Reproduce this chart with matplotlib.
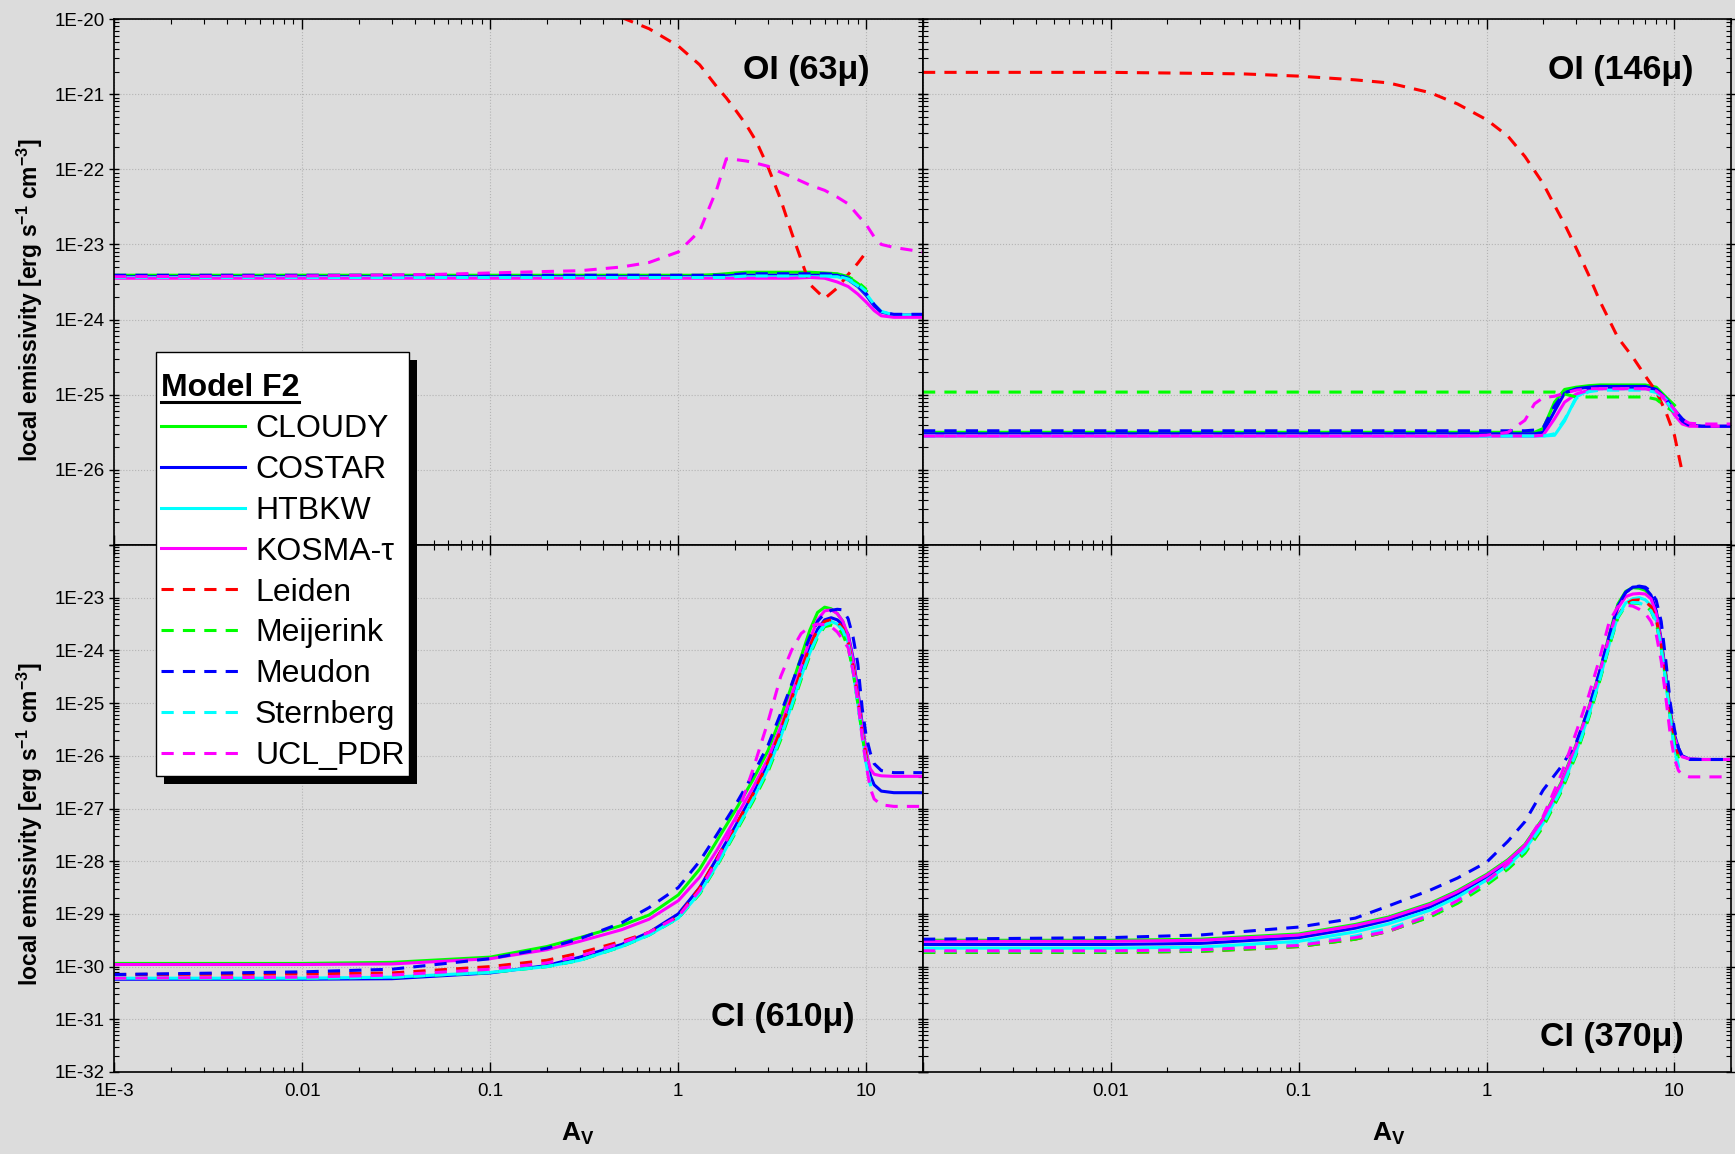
import numpy as np
import matplotlib
matplotlib.use("Agg")
import matplotlib.pyplot as plt
from matplotlib.lines import Line2D
from matplotlib.patches import Rectangle
from matplotlib.offsetbox import DrawingArea
from matplotlib.ticker import LogLocator, NullFormatter

plt.rcParams['font.family'] = ['Liberation Sans', 'DejaVu Sans']
plt.rcParams['mathtext.fontset'] = 'custom'
plt.rcParams['mathtext.rm'] = 'Liberation Sans'
plt.rcParams['mathtext.bf'] = 'Liberation Sans:bold'
plt.rcParams['mathtext.it'] = 'Liberation Sans:italic'

N = None

models = ['CLOUDY', 'COSTAR', 'HTBKW', 'KOSMA-τ', 'Leiden', 'Meijerink', 'Meudon', 'Sternberg', 'UCL_PDR']
colors = ['#00ff00', '#0000ff', '#00ffff', '#ff00ff', '#ff0000', '#00ff00', '#0000ff', '#00ffff', '#ff00ff']
dashed = [False, False, False, False, True, True, True, True, True]

# A_V sampling used when reading the top panels (OI lines)
av_top = [0.001, 0.01, 0.05, 0.1, 0.2, 0.3, 0.5, 0.7, 1.0, 1.3, 1.6, 1.8, 2.0, 2.3,
          2.6, 3.0, 3.5, 4.0, 5.0, 6.0, 7.0, 8.0, 9.0, 10.0, 11.0, 12.0, 14.0, 20.0]

# log10 of local emissivity, OI 63 micron
oi63_cloudy = [-23.41, -23.41, -23.41, -23.41, -23.41, -23.41, -23.41, -23.41, -23.41, -23.41, -23.40, -23.39, -23.38, -23.37,
               -23.37, -23.37, -23.37, -23.37, -23.37, -23.38, -23.39, -23.43, -23.52, -23.62, N, N, N, N]
oi63_costar = [-23.43, -23.43, -23.43, -23.43, -23.43, -23.43, -23.43, -23.43, -23.43, -23.43, -23.43, -23.42, -23.41, -23.41,
               -23.41, -23.41, -23.41, -23.41, -23.41, -23.41, -23.41, -23.47, -23.56, -23.68, -23.82, -23.90, -23.94, -23.94]
oi63_htbkw = [-23.44, -23.44, -23.44, -23.44, -23.44, -23.44, -23.44, -23.44, -23.44, -23.44, -23.44, -23.44, -23.43, -23.43,
              -23.43, -23.43, -23.43, -23.43, -23.43, -23.43, -23.43, -23.47, -23.55, -23.66, -23.80, -23.89, -23.94, -23.94]
oi63_kosma = [-23.45, -23.45, -23.45, -23.45, -23.45, -23.45, -23.45, -23.45, -23.45, -23.45, -23.45, -23.45, -23.45, -23.45,
              -23.45, -23.45, -23.45, -23.45, -23.44, -23.45, -23.50, -23.56, -23.66, -23.77, -23.88, -23.95, -23.97, -23.97]
oi63_leiden = [N, N, N, N, N, N, -19.98, -20.13, -20.36, -20.61, -20.90, -21.05, -21.20, -21.41,
               -21.63, -21.97, -22.40, -22.84, -23.53, -23.72, -23.58, -23.40, -23.25, -23.10, N, N, N, N]
oi63_meijerink = [-23.43, -23.43, -23.43, -23.43, -23.43, -23.43, -23.43, -23.43, -23.43, -23.43, -23.43, -23.43, -23.41, -23.40,
                  -23.40, -23.40, -23.40, -23.40, -23.40, -23.40, -23.40, -23.43, -23.50, -23.60, N, N, N, N]
oi63_meudon = [-23.41, -23.41, -23.41, -23.41, -23.41, -23.41, -23.41, -23.41, -23.41, -23.41, -23.41, -23.41, -23.40, -23.39,
               -23.39, -23.39, -23.39, -23.39, -23.39, -23.39, -23.40, -23.45, -23.55, -23.66, -23.80, -23.90, -23.93, -23.93]
oi63_sternberg = [-23.44, -23.44, -23.44, -23.44, -23.44, -23.44, -23.44, -23.44, -23.44, -23.44, -23.44, -23.44, -23.43, -23.42,
                  -23.42, -23.42, -23.42, -23.42, -23.42, -23.42, -23.42, -23.46, -23.53, -23.63, N, N, N, N]
oi63_ucl = [-23.43, -23.42, -23.40, -23.38, -23.36, -23.35, -23.30, -23.24, -23.10, -22.82, -22.27, -21.86, -21.87, -21.89,
            -21.92, -21.96, -22.04, -22.10, -22.21, -22.28, -22.37, -22.46, -22.61, -22.74, -22.90, -23.00, -23.04, -23.10]

# log10 of local emissivity, OI 146 micron
oi146_cloudy = [-25.50, -25.50, -25.50, -25.50, -25.50, -25.50, -25.50, -25.50, -25.50, -25.50, -25.50, -25.50, -25.45, -25.10,
                -24.93, -24.90, -24.88, -24.87, -24.87, -24.87, -24.87, -24.90, -25.03, -25.14, N, N, N, N]
oi146_costar = [-25.52, -25.52, -25.52, -25.52, -25.52, -25.52, -25.52, -25.52, -25.52, -25.52, -25.52, -25.52, -25.50, -25.22,
                -24.98, -24.92, -24.90, -24.89, -24.89, -24.89, -24.89, -24.93, -25.05, -25.20, -25.32, -25.40, -25.42, -25.42]
oi146_htbkw = [-25.55, -25.55, -25.55, -25.55, -25.55, -25.55, -25.55, -25.55, -25.55, -25.55, -25.55, -25.55, -25.55, -25.54,
               -25.35, -25.03, -24.94, -24.92, -24.92, -24.92, -24.92, -24.95, -25.06, -25.20, N, N, N, N]
oi146_kosma = [-25.55, -25.55, -25.55, -25.55, -25.55, -25.55, -25.55, -25.55, -25.55, -25.55, -25.55, -25.55, -25.54, -25.32,
               -25.10, -24.99, -24.94, -24.92, -24.92, -24.92, -24.92, -24.96, -25.08, -25.27, -25.39, -25.42, -25.42, -25.42]
oi146_leiden = [-20.71, -20.71, -20.73, -20.76, -20.81, -20.85, -20.98, -21.13, -21.34, -21.56, -21.83, -22.02, -22.19, -22.48,
                -22.73, -23.05, -23.41, -23.75, -24.24, -24.50, -24.75, -24.96, -25.23, -25.54, -26.03, N, N, N]
oi146_meijerink = [-24.965, -24.965, -24.965, -24.965, -24.965, -24.965, -24.965, -24.965, -24.965, -24.965, -24.965, -24.965, -24.965, -24.965,
                   -24.99, -25.03, -25.03, -25.03, -25.03, -25.03, -25.03, -25.06, -25.16, -25.23, N, N, N, N]
oi146_meudon = [-25.48, -25.48, -25.48, -25.48, -25.48, -25.48, -25.48, -25.48, -25.48, -25.48, -25.48, -25.47, -25.44, -25.15,
                -24.97, -24.93, -24.91, -24.90, -24.90, -24.90, -24.90, -24.93, -25.05, -25.22, -25.35, -25.41, -25.42, -25.42]
oi146_sternberg = [-25.55, -25.55, -25.55, -25.55, -25.55, -25.55, -25.55, -25.55, -25.55, -25.55, -25.55, -25.55, -25.55, -25.52,
                   -25.33, -25.05, -24.96, -24.94, -24.94, -24.94, -24.94, -24.97, -25.08, -25.23, N, N, N, N]
oi146_ucl = [-25.55, -25.55, -25.55, -25.55, -25.55, -25.55, -25.55, -25.55, -25.54, -25.50, -25.34, -25.12, -25.04, -25.02,
             -24.98, -24.94, -24.92, -24.92, -24.92, -24.92, -24.92, -24.95, -25.05, -25.20, -25.33, -25.38, -25.39, -25.39]

# A_V sampling used when reading the bottom panels (CI lines)
av_bot = [0.001, 0.01, 0.03, 0.1, 0.2, 0.3, 0.5, 0.7, 1.0, 1.3, 1.6, 2.0, 2.5, 3.0, 3.5, 4.0, 4.5,
          5.0, 5.5, 6.0, 6.5, 7.0, 7.5, 8.0, 8.5, 9.0, 9.5, 10.0, 10.5, 11.0, 12.0, 14.0, 20.0]

# log10 of local emissivity, CI 610 micron
ci610_cloudy = [-29.94, -29.94, -29.92, -29.82, -29.62, -29.45, -29.22, -29.02, -28.64, -28.15, -27.62, -27.05, -26.45, -25.90, -25.28, -24.68, -24.12,
                -23.62, -23.28, -23.18, -23.21, -23.30, -23.45, -23.80, -24.35, -24.90, -25.50, -26.00, N, N, N, N, N]
ci610_costar = [-30.24, -30.24, -30.23, -30.12, -29.98, -29.82, -29.58, -29.35, -29.00, -28.50, -27.95, -27.35, -26.72, -26.15, -25.55, -24.95, -24.40,
                -23.95, -23.60, -23.42, -23.38, -23.42, -23.52, -23.70, -24.15, -24.75, -25.40, -25.95, -26.38, -26.55, -26.67, -26.70, -26.70]
ci610_htbkw = [-30.22, -30.22, -30.20, -30.11, -30.00, -29.88, -29.62, -29.40, -29.08, -28.60, -28.08, -27.45, -26.82, -26.25, -25.65, -25.05, -24.50,
               -24.05, -23.70, -23.50, -23.45, -23.50, -23.62, -23.85, -24.40, -25.00, -25.60, -26.17, -26.55, N, N, N, N]
ci610_kosma = [-29.96, -29.96, -29.95, -29.85, -29.68, -29.52, -29.30, -29.10, -28.75, -28.30, -27.80, -27.20, -26.60, -26.05, -25.45, -24.85, -24.30,
               -23.80, -23.42, -23.25, -23.23, -23.30, -23.45, -23.72, -24.20, -24.80, -25.45, -25.95, -26.25, -26.35, -26.38, -26.39, -26.39]
ci610_leiden = [-30.15, -30.14, -30.12, -30.00, -29.88, -29.74, -29.52, -29.35, -29.05, -28.50, -27.95, -27.35, -26.72, -26.12, -25.52, -24.92, -24.38,
                -23.92, -23.60, -23.45, -23.42, -23.45, -23.58, -23.85, -24.30, -24.90, -25.55, -26.05, N, N, N, N, N]
ci610_meijerink = [-30.22, -30.22, -30.20, -30.11, -30.00, -29.88, -29.62, -29.40, -29.08, -28.62, -28.10, -27.48, -26.86, -26.30, -25.70, -25.10, -24.55,
                   -24.10, -23.75, -23.55, -23.52, -23.56, -23.70, -23.95, -24.40, -25.00, -25.60, -26.10, N, N, N, N, N]
ci610_meudon = [-30.15, -30.10, -30.05, -29.85, -29.65, -29.47, -29.17, -28.88, -28.50, -28.00, -27.50, -26.95, -26.35, -25.80, -25.20, -24.65, -24.15,
                -23.75, -23.45, -23.30, -23.24, -23.22, -23.23, -23.40, -23.75, -24.25, -25.10, -25.65, -25.95, -26.15, -26.28, -26.32, -26.32]
ci610_sternberg = [-30.22, -30.22, -30.20, -30.11, -30.00, -29.88, -29.62, -29.40, -29.08, -28.60, -28.08, -27.45, -26.82, -26.25, -25.65, -25.05, -24.50,
                   -24.05, -23.72, -23.52, -23.47, -23.50, -23.62, -23.88, -24.40, -25.00, -25.62, -26.20, -26.55, N, N, N, N]
ci610_ucl = [-30.22, -30.20, -30.16, -30.05, -29.93, -29.80, -29.55, -29.35, -29.05, -28.55, -28.00, -27.25, -26.25, -25.35, -24.50, -24.00, -23.68,
             -23.55, -23.50, -23.51, -23.55, -23.65, -23.80, -23.95, -24.40, -24.95, -25.65, -26.20, -26.62, -26.82, -26.93, -26.96, -26.96]

# log10 of local emissivity, CI 370 micron
ci370_cloudy = [-29.50, -29.50, -29.48, -29.38, -29.20, -29.06, -28.80, -28.56, -28.25, -27.97, -27.68, -27.18, -26.50, -25.78, -25.08, -24.40, -23.70,
                -23.12, -22.88, -22.81, -22.82, -22.86, -22.98, -23.28, -23.85, -24.50, -25.20, -25.65, N, N, N, N, N]
ci370_costar = [-29.58, -29.58, -29.56, -29.45, -29.27, -29.12, -28.87, -28.62, -28.30, -28.02, -27.72, -27.22, -26.54, -25.82, -25.12, -24.44, -23.74,
                -23.16, -22.90, -22.80, -22.79, -22.82, -22.95, -23.25, -23.80, -24.45, -25.15, -25.60, -25.85, -26.00, -26.06, -26.07, -26.07]
ci370_htbkw = [-29.65, -29.65, -29.63, -29.52, -29.34, -29.19, -28.93, -28.68, -28.36, -28.08, -27.78, -27.28, -26.62, -25.92, -25.22, -24.55, -23.88,
               -23.35, -23.10, -23.02, -23.00, -23.04, -23.15, -23.40, -23.95, -24.60, -25.30, -25.85, -26.20, N, N, N, N]
ci370_kosma = [-29.52, -29.52, -29.50, -29.40, -29.22, -29.08, -28.82, -28.58, -28.27, -27.99, -27.70, -27.20, -26.52, -25.80, -25.10, -24.42, -23.74,
               -23.20, -22.98, -22.93, -22.92, -22.93, -23.02, -23.30, -23.85, -24.50, -25.20, -25.65, -25.88, -26.02, -26.06, -26.07, -26.07]
ci370_leiden = [-29.73, -29.73, -29.71, -29.62, -29.48, -29.33, -29.05, -28.78, -28.42, -28.12, -27.82, -27.32, -26.65, -25.95, -25.25, -24.55, -23.90,
                -23.35, -23.12, -23.05, -23.04, -23.07, -23.17, -23.40, -23.90, -24.50, -25.20, -25.70, -26.00, N, N, N, N]
ci370_meijerink = [-29.73, -29.73, -29.71, -29.62, -29.48, -29.33, -29.06, -28.80, -28.45, -28.15, -27.85, -27.35, -26.68, -25.98, -25.28, -24.58, -23.92,
                   -23.38, -23.15, -23.10, -23.11, -23.15, -23.25, -23.48, -23.95, -24.55, -25.25, -25.75, -26.05, N, N, N, N]
ci370_meudon = [-29.48, -29.45, -29.40, -29.25, -29.08, -28.85, -28.55, -28.32, -28.02, -27.62, -27.25, -26.65, -26.20, -25.75, -25.10, -24.40, -23.72,
                -23.15, -22.90, -22.80, -22.78, -22.80, -22.88, -23.05, -23.45, -24.20, -25.00, -25.50, -25.85, -26.02, -26.07, -26.07, -26.07]
ci370_sternberg = [-29.70, -29.70, -29.68, -29.58, -29.42, -29.28, -29.02, -28.75, -28.40, -28.10, -27.80, -27.30, -26.64, -25.94, -25.24, -24.55, -23.90,
                   -23.36, -23.14, -23.09, -23.10, -23.15, -23.25, -23.45, -23.95, -24.60, -25.30, -25.90, -26.20, N, N, N, N]
ci370_ucl = [-29.70, -29.70, -29.68, -29.60, -29.45, -29.33, -29.02, -28.75, -28.38, -28.05, -27.70, -27.15, -26.35, -25.55, -24.85, -24.15, -23.45,
             -23.17, -23.14, -23.16, -23.22, -23.30, -23.45, -23.70, -24.20, -24.90, -25.60, -26.05, -26.28, -26.36, -26.40, -26.40, -26.40]

oi63 = [oi63_cloudy, oi63_costar, oi63_htbkw, oi63_kosma, oi63_leiden, oi63_meijerink, oi63_meudon, oi63_sternberg, oi63_ucl]
oi146 = [oi146_cloudy, oi146_costar, oi146_htbkw, oi146_kosma, oi146_leiden, oi146_meijerink, oi146_meudon, oi146_sternberg, oi146_ucl]
ci610 = [ci610_cloudy, ci610_costar, ci610_htbkw, ci610_kosma, ci610_leiden, ci610_meijerink, ci610_meudon, ci610_sternberg, ci610_ucl]
ci370 = [ci370_cloudy, ci370_costar, ci370_htbkw, ci370_kosma, ci370_leiden, ci370_meijerink, ci370_meudon, ci370_sternberg, ci370_ucl]

bg = '#dcdcdc'
W, H = 1735, 1154
fig = plt.figure(figsize=(W / 100, H / 100), dpi=100, facecolor=bg)


def box(x0, x1, y0, y1):
    return [x0 / W, 1 - y1 / H, (x1 - x0) / W, (y1 - y0) / H]


ax_tl = fig.add_axes(box(114, 923, 19, 545))
ax_tr = fig.add_axes(box(923, 1731, 19, 545))
ax_bl = fig.add_axes(box(114, 923, 545, 1072))
ax_br = fig.add_axes(box(923, 1731, 545, 1072))

LW = 2.2


def draw(ax, av, series):
    for vals, c, d in zip(series, colors, dashed):
        y = 10.0 ** np.array(vals, dtype=float)
        if d:
            ax.plot(av, y, color=c, lw=LW, dashes=(4, 3))
        else:
            ax.plot(av, y, color=c, lw=LW)


def setup(ax, ytop, ybot, xlabels, ylabels, first_x):
    ax.set_facecolor(bg)
    ax.set_xscale('log')
    ax.set_yscale('log')
    ax.set_xlim(1e-3, 20)
    ax.set_ylim(10.0 ** ybot, 10.0 ** ytop)
    ax.set_xticks([1e-3, 1e-2, 1e-1, 1, 10])
    ax.set_xticklabels(['1E-3' if first_x else '', '0.01', '0.1', '1', '10'])
    exps = list(range(ytop, ybot - 1, -1))
    ax.set_yticks([10.0 ** e for e in exps])
    ax.set_yticklabels(['1E%d' % e for e in exps])
    ax.xaxis.set_minor_locator(LogLocator(base=10, subs=np.arange(2, 10), numticks=100))
    ax.yaxis.set_minor_locator(LogLocator(base=10, subs=np.arange(2, 10), numticks=100))
    ax.xaxis.set_minor_formatter(NullFormatter())
    ax.yaxis.set_minor_formatter(NullFormatter())
    ax.tick_params(which='both', top=True, right=True, labelsize=13.5,
                   labelbottom=xlabels, labelleft=ylabels)
    ax.tick_params(axis='x', which='major', direction='in', length=7, width=1, pad=8)
    ax.tick_params(axis='x', which='minor', direction='in', length=3.5, width=0.8)
    ax.tick_params(axis='y', which='major', direction='inout', length=7, width=1, pad=3)
    ax.tick_params(axis='y', which='minor', direction='in', length=3.5, width=0.8)
    ax.grid(True, which='major', ls=':', lw=0.8, color='#b4b4b4')
    ax.set_axisbelow(True)
    for s in ax.spines.values():
        s.set_linewidth(1.2)


draw(ax_tl, av_top, oi63)
draw(ax_tr, av_top, oi146)
draw(ax_bl, av_bot, ci610)
draw(ax_br, av_bot, ci370)

setup(ax_tl, -20, -27, False, True, True)
setup(ax_tr, -20, -27, False, False, False)
setup(ax_bl, -22, -32, True, True, True)
setup(ax_br, -22, -32, True, False, False)

# hide labels that would collide at the shared border
ax_tl.get_yticklabels()[-1].set_visible(False)
ax_bl.get_yticklabels()[0].set_visible(False)

lab = dict(fontsize=24.5, fontweight='bold', ha='right', va='center')
ax_tl.text(0.9345, 0.903, 'OI (63μ)', transform=ax_tl.transAxes, **lab)
ax_tr.text(0.953, 0.903, 'OI (146μ)', transform=ax_tr.transAxes, **lab)
ax_bl.text(0.915, 0.1025, 'CI (610μ)', transform=ax_bl.transAxes, **lab)
ax_br.text(0.942, 0.0664, 'CI (370μ)', transform=ax_br.transAxes, **lab)

ylab = r'local emissivity [erg s$^{\mathbf{-1}}$ cm$^{\mathbf{-3}}$]'
fig.text(0.0175, 0.740, ylab, rotation=90, ha='center', va='center', fontsize=16.5, fontweight='bold')
fig.text(0.0175, 0.286, ylab, rotation=90, ha='center', va='center', fontsize=16.5, fontweight='bold')
xlab = r'$\mathbf{A}_{\mathbf{V}}$'
fig.text(0.333, 0.017, xlab, ha='center', va='center', fontsize=19)
fig.text(0.8006, 0.017, xlab, ha='center', va='center', fontsize=19)

handles = [Line2D([], [], color=c, lw=LW, dashes=(4, 3)) if d else Line2D([], [], color=c, lw=LW)
           for c, d in zip(colors, dashed)]
leg = fig.legend(handles, models, loc='upper left', bbox_to_anchor=(156 / W, 1 - 352 / H),
                 borderaxespad=0, frameon=True, fancybox=False, edgecolor='black',
                 facecolor='white', framealpha=1, fontsize=23, title='Model F2',
                 title_fontproperties={'weight': 'bold', 'size': 23}, alignment='left',
                 handlelength=2.65, handletextpad=0.3, labelspacing=0.34, borderpad=0.15)
leg.get_frame().set_linewidth(1.0)
# a little extra room above the title, as in the original box
leg._legend_box.get_children().insert(0, DrawingArea(0, 4))

fig.canvas.draw()
bb = leg.get_frame().get_window_extent()
off = 8
fig.add_artist(Rectangle(((bb.x0 + off) / W, (bb.y0 - off) / H), bb.width / W, bb.height / H,
                         transform=fig.transFigure, facecolor='black', edgecolor='none', zorder=4.9))
tb = leg.get_title().get_window_extent()
fig.add_artist(Line2D([tb.x0 / W, tb.x1 / W], [(tb.y0 + 1) / H, (tb.y0 + 1) / H],
                      transform=fig.transFigure, color='black', lw=2.2, zorder=6))

fig.savefig('out.png', dpi=100, facecolor=bg)
